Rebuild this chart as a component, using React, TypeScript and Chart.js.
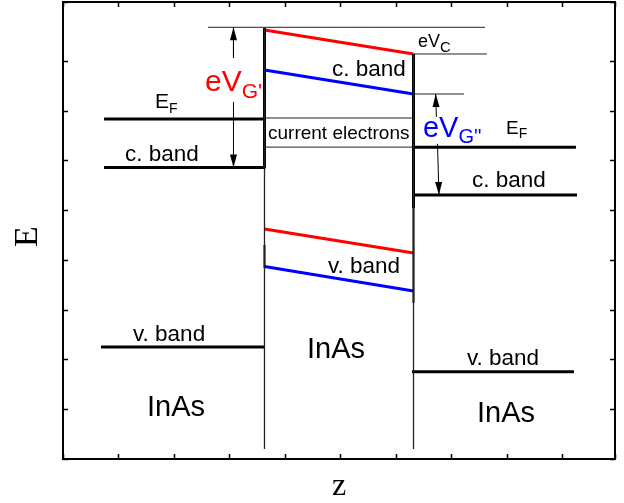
import React, { useEffect, useRef } from "react";
import { Chart, registerables } from "chart.js";

Chart.register(...registerables);

// ---- axis ranges (z and E, arbitrary units) ----
const zRange = [0, 9.95];
const eRange = [0, 9.18];

// ---- band levels: [z, E] end points ----
const leftFermi = [[0.74, 6.83], [3.632, 6.83]];
const leftCBand = [[0.74, 5.856], [3.632, 5.856]];
const leftVBand = [[0.685, 2.25], [3.632, 2.25]];
const rightFermi = [[6.318, 6.262], [9.246, 6.262]];
const rightCBand = [[6.318, 5.303], [9.265, 5.303]];
const rightVBand = [[6.29, 1.754], [9.21, 1.754]];

const redCBand = [[3.632, 8.618], [6.318, 8.136]];
const blueCBand = [[3.632, 7.814], [6.318, 7.332]];
const redVBand = [[3.632, 4.62], [6.318, 4.138]];
const blueVBand = [[3.632, 3.867], [6.318, 3.375]];

// ---- interfaces ----
const leftWallThin = [[3.632, 0.2], [3.632, 8.658]];
const leftWallThick = [[3.632, 5.836], [3.632, 8.658]];
const leftWallMid = [[3.632, 3.837], [3.632, 4.299]];
const rightWallThin = [[6.318, 0.2], [6.318, 8.136]];
const rightWallThick = [[6.318, 5.042], [6.318, 8.136]];
const rightWallMid = [[6.318, 3.134], [6.318, 5.042]];

// ---- thin guide lines ----
const guideTop = [[2.614, 8.672], [7.606, 8.672]];
const guideVc = [[6.318, 8.136], [7.642, 8.136]];
const guideVg2 = [[6.318, 7.332], [7.228, 7.332]];
const currentTop = [[3.632, 6.85], [6.318, 6.85]];
const currentBottom = [[3.632, 6.265], [6.318, 6.265]];

// ---- arrows: first point is the tip ----
const arrowG1Top = [[3.073, 8.672], [3.073, 8.06]];
const arrowG1Bottom = [[3.073, 5.856], [3.073, 7.17]];
const arrowG2Top = [[6.718, 7.332], [6.73, 6.87]];
const arrowG2Bottom = [[6.777, 5.303], [6.75, 6.33]];

// ---- text annotations ----
const labelTexts = ["E", "c. band", "current electrons", "c. band", "eV", "eV", "eV", "E", "c. band", "v. band", "v. band", "InAs", "v. band", "InAs", "InAs"];
const labelSubs = ["F", "", "", "", "C", "G'", "G''", "F", "", "", "", "", "", "", ""];
const labelZ = [1.658, 1.118, 3.695, 4.849, 6.399, 2.559, 6.489, 7.985, 7.372, 4.776, 1.262, 4.398, 7.282, 1.514, 7.462];
const labelE = [7.045, 5.986, 6.418, 7.702, 8.276, 7.383, 6.469, 6.533, 5.464, 3.736, 2.37, 2.029, 1.888, 0.87, 0.749];

const labelSize = [21, 22.5, 19, 22.5, 18, 30, 29, 19, 22.5, 22.5, 22.5, 29, 22.5, 29, 29];
const labelSubSize = [14, 0, 0, 0, 15, 21, 20, 14, 0, 0, 0, 0, 0, 0, 0];
const labelColor = ["#000", "#000", "#000", "#000", "#000", "#ff0000", "#0000ff", "#000", "#000", "#000", "#000", "#000", "#000", "#000", "#000"];

const SANS = '"Liberation Sans", Arial, sans-serif';
const SERIF = '"Liberation Serif", "Times New Roman", serif';

function seg(pts: number[][], color: string, width: number) {
  return {
    data: pts.map((p) => ({ x: p[0], y: p[1] })),
    showLine: true,
    borderColor: color,
    backgroundColor: color,
    borderWidth: width,
    pointRadius: 0,
    pointHoverRadius: 0,
    fill: false,
    tension: 0,
  };
}

const arrows = [arrowG1Top, arrowG1Bottom, arrowG2Top, arrowG2Bottom];

const decorPlugin = {
  id: "decor",
  afterDatasetsDraw(chart: any) {
    const ctx = chart.ctx as CanvasRenderingContext2D;
    const xs = chart.scales.x;
    const ys = chart.scales.y;
    const a = chart.chartArea;
    ctx.save();

    // frame
    ctx.strokeStyle = "#000";
    ctx.lineWidth = 2;
    ctx.strokeRect(a.left, a.top, a.right - a.left, a.bottom - a.top);

    // inward ticks
    ctx.lineWidth = 1.5;
    const tl = 5;
    ctx.beginPath();
    for (const t of xs.ticks) {
      const px = Math.round(xs.getPixelForValue(t.value)) + 0.5;
      ctx.moveTo(px, a.bottom);
      ctx.lineTo(px, a.bottom - tl);
      ctx.moveTo(px, a.top);
      ctx.lineTo(px, a.top + tl);
    }
    for (const t of ys.ticks) {
      const py = Math.round(ys.getPixelForValue(t.value)) + 0.5;
      ctx.moveTo(a.left, py);
      ctx.lineTo(a.left + tl, py);
      ctx.moveTo(a.right, py);
      ctx.lineTo(a.right - tl, py);
    }
    ctx.stroke();

    // arrow heads
    ctx.fillStyle = "#000";
    for (const ar of arrows) {
      const tx = xs.getPixelForValue(ar[0][0]);
      const ty = ys.getPixelForValue(ar[0][1]);
      const ox = xs.getPixelForValue(ar[1][0]);
      const oy = ys.getPixelForValue(ar[1][1]);
      const ang = Math.atan2(ty - oy, tx - ox);
      const len = 13;
      const hw = 3.5;
      const bx = tx - Math.cos(ang) * len;
      const by = ty - Math.sin(ang) * len;
      ctx.beginPath();
      ctx.moveTo(tx, ty);
      ctx.lineTo(bx + Math.sin(ang) * hw, by - Math.cos(ang) * hw);
      ctx.lineTo(bx - Math.sin(ang) * hw, by + Math.cos(ang) * hw);
      ctx.closePath();
      ctx.fill();
    }

    // labels
    ctx.textBaseline = "alphabetic";
    ctx.textAlign = "left";
    for (let i = 0; i < labelTexts.length; i++) {
      const px = xs.getPixelForValue(labelZ[i]);
      const py = ys.getPixelForValue(labelE[i]);
      ctx.fillStyle = labelColor[i];
      ctx.font = `${labelSize[i]}px ${SANS}`;
      ctx.fillText(labelTexts[i], px, py);
      if (labelSubs[i]) {
        const w = ctx.measureText(labelTexts[i]).width;
        ctx.font = `${labelSubSize[i]}px ${SANS}`;
        ctx.fillText(labelSubs[i], px + w, py + labelSubSize[i] * 0.32);
      }
    }

    // axis titles
    ctx.fillStyle = "#000";
    ctx.font = `34px ${SERIF}`;
    ctx.textAlign = "center";
    ctx.textBaseline = "middle";
    ctx.save();
    ctx.translate(a.left - 35, (a.top + a.bottom) / 2 + 6);
    ctx.rotate(-Math.PI / 2);
    ctx.fillText("E", 0, 0);
    ctx.restore();
    ctx.font = `32px ${SERIF}`;
    ctx.textBaseline = "alphabetic";
    ctx.fillText("z", (a.left + a.right) / 2, a.bottom + 36);

    ctx.restore();
  },
};

export default function App() {
  const ref = useRef<HTMLCanvasElement | null>(null);
  useEffect(() => {
    if (!ref.current) return;
    const THICK = 3;
    const chart = new Chart(ref.current, {
      type: "scatter",
      data: {
        datasets: [
          seg(leftWallThin, "#222", 1.3),
          seg(rightWallThin, "#222", 1.3),
          seg(leftWallThick, "#000", THICK),
          seg(leftWallMid, "#000", 2),
          seg(rightWallThick, "#000", THICK),
          seg(rightWallMid, "#000", 2),
          seg(leftFermi, "#000", THICK),
          seg(leftCBand, "#000", THICK),
          seg(leftVBand, "#000", THICK),
          seg(rightFermi, "#000", THICK),
          seg(rightCBand, "#000", THICK),
          seg(rightVBand, "#000", THICK),
          seg(redCBand, "#ff0000", THICK),
          seg(blueCBand, "#0000ff", THICK),
          seg(redVBand, "#ff0000", THICK),
          seg(blueVBand, "#0000ff", THICK),
          seg(guideTop, "#222", 1),
          seg(guideVc, "#222", 1),
          seg(guideVg2, "#222", 1),
          seg(currentTop, "#222", 1),
          seg(currentBottom, "#222", 1),
          seg(arrowG1Top, "#000", 1),
          seg(arrowG1Bottom, "#000", 1),
          seg(arrowG2Top, "#000", 1),
          seg(arrowG2Bottom, "#000", 1),
        ] as any,
      },
      options: {
        responsive: false,
        animation: false,
        devicePixelRatio: 1,
        layout: { padding: { left: 63, top: 2, right: 9, bottom: 44 } },
        plugins: { legend: { display: false }, tooltip: { enabled: false } },
        events: [],
        scales: {
          x: {
            type: "linear",
            min: zRange[0],
            max: zRange[1],
            ticks: { display: false, stepSize: 1 },
            grid: { display: false, drawTicks: false },
            border: { display: false },
          },
          y: {
            type: "linear",
            min: eRange[0],
            max: eRange[1],
            ticks: { display: false, stepSize: 1 },
            grid: { display: false, drawTicks: false },
            border: { display: false },
          },
        },
      },
      plugins: [decorPlugin],
    });
    return () => chart.destroy();
  }, []);
  return (
    <div style={{ position: "absolute", left: 0, top: 0, width: 624, height: 503, background: "#fff" }}>
      <canvas ref={ref} width={624} height={503} />
    </div>
  );
}
